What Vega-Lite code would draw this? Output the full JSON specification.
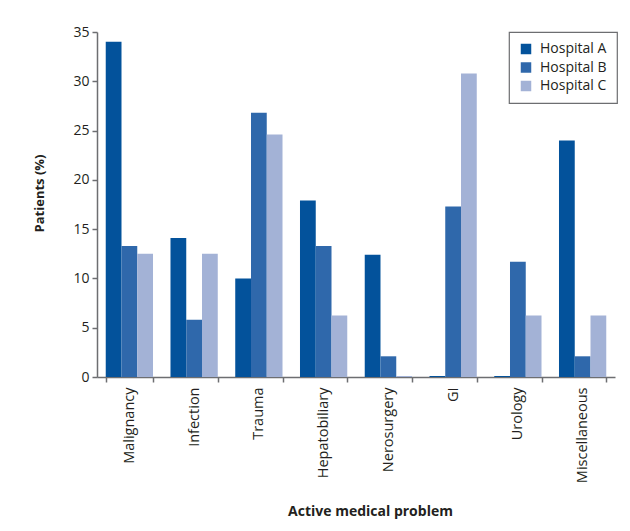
{
  "$schema": "https://vega.github.io/schema/vega-lite/v6.json",
  "width": 518,
  "height": 345,
  "autosize": "none",
  "padding": {"left": 97, "top": 32, "right": 15, "bottom": 154},
  "background": "white",
  "config": {
    "view": {"stroke": null},
    "font": "Open Sans",
    "legend": {"strokeColor": "#6d6e71", "strokeWidth": 1.2},
    "axis": {
      "labelFont": "Open Sans",
      "titleFont": "Open Sans",
      "labelColor": "#231f20",
      "titleColor": "#231f20",
      "domainColor": "#6d6e71",
      "tickColor": "#6d6e71",
      "domainWidth": 1.5,
      "tickWidth": 1.5,
      "grid": false
    }
  },
  "data": {
    "values": [
      {"problem": "Malignancy", "hospital": "Hospital A", "pct": 34.0},
      {"problem": "Malignancy", "hospital": "Hospital B", "pct": 13.3},
      {"problem": "Malignancy", "hospital": "Hospital C", "pct": 12.5},
      {"problem": "Infection", "hospital": "Hospital A", "pct": 14.1},
      {"problem": "Infection", "hospital": "Hospital B", "pct": 5.8},
      {"problem": "Infection", "hospital": "Hospital C", "pct": 12.5},
      {"problem": "Trauma", "hospital": "Hospital A", "pct": 10.0},
      {"problem": "Trauma", "hospital": "Hospital B", "pct": 26.8},
      {"problem": "Trauma", "hospital": "Hospital C", "pct": 24.6},
      {"problem": "Hepatobiliary", "hospital": "Hospital A", "pct": 17.9},
      {"problem": "Hepatobiliary", "hospital": "Hospital B", "pct": 13.3},
      {"problem": "Hepatobiliary", "hospital": "Hospital C", "pct": 6.25},
      {"problem": "Nerosurgery", "hospital": "Hospital A", "pct": 12.4},
      {"problem": "Nerosurgery", "hospital": "Hospital B", "pct": 2.1},
      {"problem": "Nerosurgery", "hospital": "Hospital C", "pct": 0.1},
      {"problem": "GI", "hospital": "Hospital A", "pct": 0.1},
      {"problem": "GI", "hospital": "Hospital B", "pct": 17.3},
      {"problem": "GI", "hospital": "Hospital C", "pct": 30.8},
      {"problem": "Urology", "hospital": "Hospital A", "pct": 0.1},
      {"problem": "Urology", "hospital": "Hospital B", "pct": 11.7},
      {"problem": "Urology", "hospital": "Hospital C", "pct": 6.25},
      {"problem": "Miscellaneous", "hospital": "Hospital A", "pct": 24.0},
      {"problem": "Miscellaneous", "hospital": "Hospital B", "pct": 2.1},
      {"problem": "Miscellaneous", "hospital": "Hospital C", "pct": 6.25}
    ]
  },
  "mark": {"type": "bar"},
  "encoding": {
    "x": {
      "field": "problem",
      "type": "nominal",
      "sort": null,
      "scale": {"paddingInner": 0.27, "paddingOuter": 0.135},
      "axis": {
        "title": "Active medical problem",
        "titleFontSize": 14,
        "titleFontWeight": "bold",
        "titlePadding": 22,
        "titleX": 273,
        "labelAngle": -90,
        "labelFontSize": 14.5,
        "labelPadding": 5,
        "tickBand": "extent",
        "tickSize": 5
      }
    },
    "xOffset": {"field": "hospital", "type": "nominal"},
    "y": {
      "field": "pct",
      "type": "quantitative",
      "scale": {"domain": [0, 35], "nice": false},
      "axis": {
        "title": "Patients (%)",
        "titleFontSize": 13,
        "titleFontWeight": "bold",
        "titlePadding": 26,
        "titleY": 161,
        "values": [0, 5, 10, 15, 20, 25, 30, 35],
        "labelFontSize": 14,
        "tickSize": 5,
        "labelPadding": 3
      }
    },
    "color": {
      "field": "hospital",
      "type": "nominal",
      "scale": {"range": ["#03529b", "#2f68ab", "#a3b2d6"]},
      "legend": {
        "title": null,
        "orient": "none",
        "legendX": 412,
        "legendY": 0,
        "padding": 10,
        "symbolType": "square",
        "symbolSize": 110,
        "symbolStrokeWidth": 0,
        "labelFontSize": 14,
        "labelFont": "Open Sans",
        "labelColor": "#231f20",
        "rowPadding": 4.5,
        "labelOffset": 7
      }
    }
  }
}
